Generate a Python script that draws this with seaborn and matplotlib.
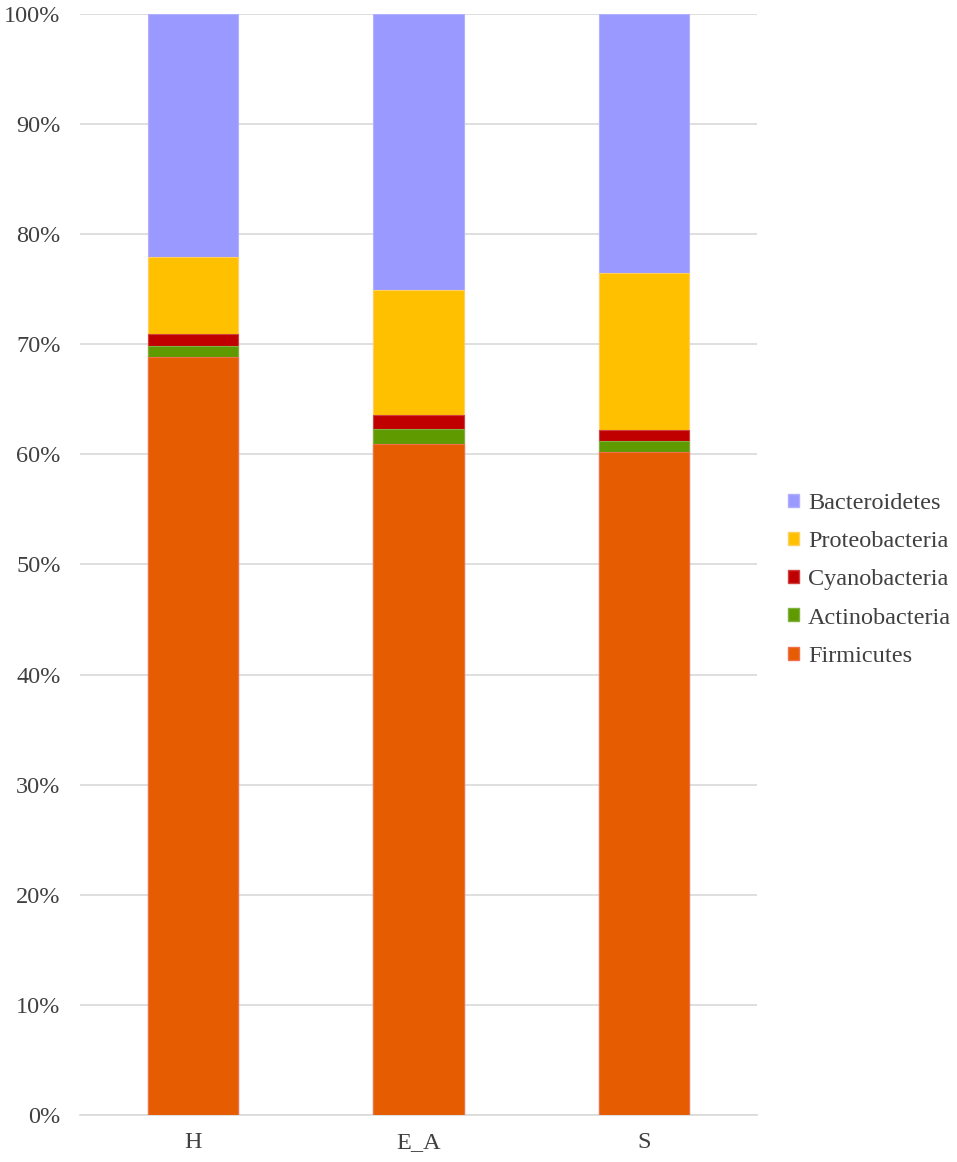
import numpy as np
import pandas as pd
import seaborn as sns
import matplotlib.pyplot as plt
from matplotlib.patches import Patch
from matplotlib.ticker import PercentFormatter

# data (percent)
samples = ["H", "E_A", "S"]
phyla = ["Firmicutes", "Actinobacteria", "Cyanobacteria", "Proteobacteria", "Bacteroidetes"]
firmicutes = [68.8, 60.9, 60.2]
actinobacteria = [1.0, 1.4, 1.0]
cyanobacteria = [1.1, 1.3, 1.0]
proteobacteria = [7.0, 11.35, 14.3]
bacteroidetes = [22.1, 25.05, 23.5]

colors = {
    "Firmicutes": "#E65C00",
    "Actinobacteria": "#5F9A00",
    "Cyanobacteria": "#C00000",
    "Proteobacteria": "#FFC000",
    "Bacteroidetes": "#9999FF",
}
edges = {
    "Firmicutes": "#F07050",
    "Actinobacteria": "#7FB040",
    "Cyanobacteria": "#D04040",
    "Proteobacteria": "#FFD060",
    "Bacteroidetes": "#B0B0FF",
}

df = pd.DataFrame({
    "sample": samples,
    "Firmicutes": firmicutes,
    "Actinobacteria": actinobacteria,
    "Cyanobacteria": cyanobacteria,
    "Proteobacteria": proteobacteria,
    "Bacteroidetes": bacteroidetes,
})
cum = df[phyla].cumsum(axis=1)
cum["sample"] = df["sample"]

sns.set_theme(style="white")
plt.rcParams["font.family"] = ["Liberation Serif", "DejaVu Serif"]

fig = plt.figure(figsize=(9.57, 11.62), dpi=100)
ax = fig.add_axes([0.0836, 0.0404, 0.7074, 0.9478])

# draw cumulative bars from the top down so the lower segments sit in front
for p in phyla[::-1]:
    sns.barplot(data=cum, x="sample", y=p, color=colors[p], width=0.4,
                edgecolor=edges[p], linewidth=0.8, saturation=1, ax=ax, zorder=3)

ax.set_ylim(0, 100)
ax.set_yticks(np.arange(0, 101, 10))
ax.yaxis.set_major_formatter(PercentFormatter(decimals=0))
ax.grid(axis="y", color="#D9D9D9", linewidth=1.2, zorder=0)
ax.set_axisbelow(True)
ax.set_xlabel("")
ax.set_ylabel("")
for s in ["top", "right", "left"]:
    ax.spines[s].set_visible(False)
ax.spines["bottom"].set_color("#D9D9D9")
ax.spines["bottom"].set_linewidth(1.2)
ax.tick_params(axis="both", length=0, labelsize=17.5, colors="#404040")
ax.tick_params(axis="x", pad=12)
ax.tick_params(axis="y", pad=14)

handles = [Patch(facecolor=colors[p], edgecolor=edges[p], label=p) for p in phyla[::-1]]
fig.legend(handles=handles, loc="center left", bbox_to_anchor=(0.801, 0.501),
           frameon=False, fontsize=17.5, handlelength=0.45, handleheight=0.45,
           handletextpad=0.35, labelspacing=0.71, labelcolor="#404040")

fig.savefig("out.png", dpi=100)
